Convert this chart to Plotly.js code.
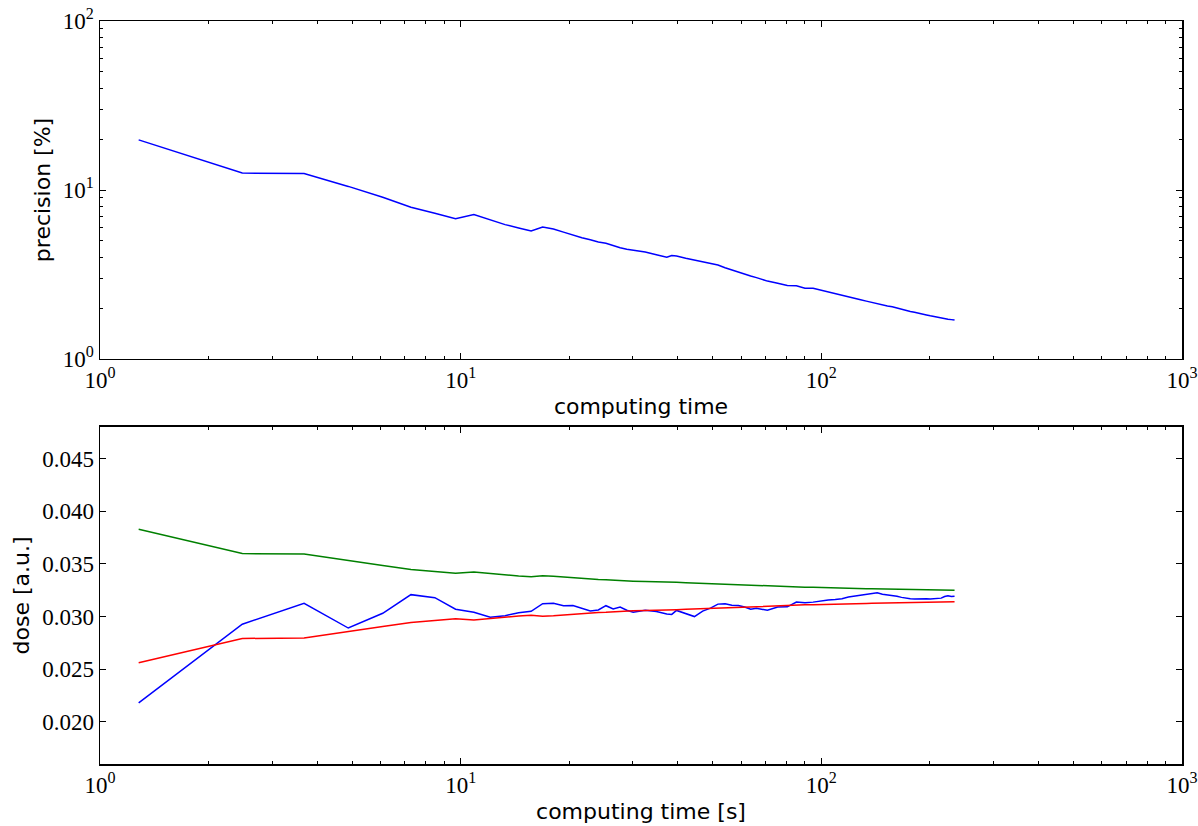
<!DOCTYPE html>
<html>
<head>
<meta charset="utf-8">
<script src="https://cdn.plot.ly/plotly-3.0.1.min.js"></script>
<style>html,body{margin:0;padding:0;background:#fff;}#chart{width:1198px;height:826px;}</style>
</head>
<body>
<div id="chart"></div>
<script>
// computing time [s]
const time = [1.28, 2.48, 3.68, 4.88, 6.08, 7.28, 8.48, 9.68, 10.88, 12.08, 13.28, 14.48, 15.68, 16.88, 18.08, 19.28, 20.48, 21.68, 22.88, 24.08, 25.28, 26.48, 27.68, 28.88, 30.08, 32.48, 34.88, 37.28, 38.48, 39.68, 42.08, 44.48, 46.88, 49.28, 51.68, 54.08, 56.48, 58.88, 61.28, 63.68, 66.08, 68.48, 70.88, 75.68, 80.48, 85.28, 90.08, 94.88, 99.68, 104.48, 109.28, 114.08, 118.88, 123.68, 128.48, 133.28, 138.08, 142.88, 147.68, 152.48, 157.28, 162.08, 166.88, 171.68, 176.48, 181.28, 186.08, 190.88, 195.68, 200.48, 205.28, 210.08, 214.88, 219.68, 224.48, 229.28, 234.08];

// precision [%]
const precision = [19.8, 12.6, 12.5, 10.5, 9.05, 7.9, 7.28, 6.77, 7.15, 6.64, 6.24, 5.96, 5.72, 6.04, 5.88, 5.63, 5.40, 5.22, 5.07, 4.92, 4.84, 4.68, 4.55, 4.46, 4.40, 4.30, 4.14, 4.00, 4.10, 4.07, 3.94, 3.85, 3.73, 3.69, 3.60, 3.47, 3.36, 3.26, 3.18, 3.10, 3.03, 2.96, 2.89, 2.81, 2.72, 2.71, 2.62, 2.62, 2.55, 2.49, 2.43, 2.37, 2.33, 2.28, 2.24, 2.20, 2.16, 2.12, 2.09, 2.06, 2.04, 2.00, 1.97, 1.94, 1.91, 1.89, 1.86, 1.84, 1.82, 1.80, 1.78, 1.77, 1.75, 1.74, 1.72, 1.71, 1.70];

// dose [a.u.]: running mean (blue), upper (green), lower (red)
const doseMean = [0.02180, 0.02927, 0.03126, 0.02891, 0.03031, 0.03208, 0.03179, 0.03070, 0.03040, 0.02993, 0.03008, 0.03037, 0.03050, 0.03122, 0.03127, 0.03102, 0.03105, 0.03079, 0.03053, 0.03062, 0.03103, 0.03072, 0.03091, 0.03060, 0.03040, 0.03060, 0.03048, 0.03025, 0.03020, 0.03058, 0.03025, 0.03000, 0.03052, 0.03080, 0.03118, 0.03122, 0.03108, 0.03104, 0.03090, 0.03070, 0.03078, 0.03070, 0.03060, 0.03090, 0.03092, 0.03138, 0.03130, 0.03137, 0.03150, 0.03157, 0.03162, 0.03170, 0.03185, 0.03193, 0.03200, 0.03208, 0.03216, 0.03226, 0.03212, 0.03206, 0.03202, 0.03192, 0.03182, 0.03174, 0.03168, 0.03167, 0.03169, 0.03170, 0.03168, 0.03166, 0.03168, 0.03171, 0.03175, 0.03190, 0.03198, 0.03190, 0.03193];

const doseUpper = [0.03828, 0.03598, 0.03594, 0.03530, 0.03484, 0.03447, 0.03428, 0.03411, 0.03423, 0.03407, 0.03394, 0.03385, 0.03378, 0.03388, 0.03383, 0.03375, 0.03368, 0.03362, 0.03357, 0.03352, 0.03350, 0.03345, 0.03340, 0.03338, 0.03336, 0.03332, 0.03327, 0.03323, 0.03326, 0.03325, 0.03321, 0.03318, 0.03314, 0.03313, 0.03310, 0.03306, 0.03302, 0.03299, 0.03297, 0.03294, 0.03292, 0.03290, 0.03287, 0.03285, 0.03282, 0.03282, 0.03279, 0.03279, 0.03276, 0.03275, 0.03273, 0.03271, 0.03269, 0.03268, 0.03267, 0.03265, 0.03264, 0.03263, 0.03262, 0.03261, 0.03260, 0.03259, 0.03258, 0.03257, 0.03256, 0.03255, 0.03254, 0.03254, 0.03253, 0.03253, 0.03252, 0.03252, 0.03251, 0.03251, 0.03250, 0.03250, 0.03249];

const doseLower = [0.02562, 0.02792, 0.02796, 0.02860, 0.02906, 0.02943, 0.02962, 0.02979, 0.02967, 0.02983, 0.02996, 0.03005, 0.03012, 0.03002, 0.03007, 0.03015, 0.03022, 0.03028, 0.03033, 0.03038, 0.03040, 0.03045, 0.03050, 0.03052, 0.03054, 0.03058, 0.03063, 0.03067, 0.03064, 0.03065, 0.03069, 0.03072, 0.03076, 0.03077, 0.03080, 0.03084, 0.03088, 0.03091, 0.03093, 0.03096, 0.03098, 0.03100, 0.03103, 0.03105, 0.03108, 0.03108, 0.03111, 0.03111, 0.03114, 0.03115, 0.03117, 0.03119, 0.03121, 0.03122, 0.03123, 0.03125, 0.03126, 0.03127, 0.03128, 0.03129, 0.03130, 0.03131, 0.03132, 0.03133, 0.03134, 0.03135, 0.03136, 0.03136, 0.03137, 0.03137, 0.03138, 0.03138, 0.03139, 0.03139, 0.03140, 0.03140, 0.03141];

// tick labels
const logTickVals = [1, 10, 100, 1000];
const logTickText = ['10<sup>0</sup>', '10<sup>1</sup>', '10<sup>2</sup>', '10<sup>3</sup>'];
const logMinorX = [2,3,4,5,6,7,8,9,20,30,40,50,60,70,80,90,200,300,400,500,600,700,800,900];
const logTickValsY = [1, 10, 100];
const logTickTextY = ['10<sup>0</sup>', '10<sup>1</sup>', '10<sup>2</sup>'];
const logMinorY = [2,3,4,5,6,7,8,9,20,30,40,50,60,70,80,90];

const tickFont = {family: 'Liberation Serif, DejaVu Serif, serif', size: 23, color: '#000'};
const titleFont = {family: 'DejaVu Sans, sans-serif', size: 22, color: '#000'};

const axisBase = {
  showline: true, linecolor: '#000', linewidth: 1.5, mirror: 'allticks',
  ticks: 'inside', ticklen: 6, tickwidth: 1, tickcolor: '#000',
  showgrid: false, zeroline: false, tickfont: tickFont
};

const traces = [
  {x: time, y: precision, xaxis: 'x2', yaxis: 'y2', type: 'scatter', mode: 'lines',
   line: {color: '#0000ff', width: 1.5}, name: 'precision'},
  {x: time, y: doseUpper, xaxis: 'x', yaxis: 'y', type: 'scatter', mode: 'lines',
   line: {color: '#008000', width: 1.5}, name: 'upper'},
  {x: time, y: doseMean, xaxis: 'x', yaxis: 'y', type: 'scatter', mode: 'lines',
   line: {color: '#0000ff', width: 1.5}, name: 'dose'},
  {x: time, y: doseLower, xaxis: 'x', yaxis: 'y', type: 'scatter', mode: 'lines',
   line: {color: '#ff0000', width: 1.5}, name: 'lower'}
];

const layout = {
  width: 1198, height: 826,
  margin: {l: 100, r: 16, t: 21, b: 62},
  paper_bgcolor: '#fff', plot_bgcolor: '#fff',
  showlegend: false,
  xaxis: Object.assign({}, axisBase, {
    type: 'log', range: [0, 3], anchor: 'y', domain: [0, 1],
    tickvals: logTickVals, ticktext: logTickText,
    minor: {ticks: 'inside', ticklen: 3, tickvals: logMinorX, tickcolor: '#000', showgrid: false},
    title: {text: 'computing time [s]', font: titleFont, standoff: 6}
  }),
  yaxis: Object.assign({}, axisBase, {
    range: [0.016, 0.048], anchor: 'x', domain: [0, 0.4536],
    tick0: 0.02, dtick: 0.005, tickformat: '.3f',
    title: {text: 'dose [a.u.]', font: titleFont, standoff: 6}
  }),
  xaxis2: Object.assign({}, axisBase, {
    type: 'log', range: [0, 3], anchor: 'y2', domain: [0, 1],
    tickvals: logTickVals, ticktext: logTickText,
    minor: {ticks: 'inside', ticklen: 3, tickvals: logMinorX, tickcolor: '#000', showgrid: false},
    title: {text: 'computing time', font: titleFont, standoff: 6}
  }),
  yaxis2: Object.assign({}, axisBase, {
    type: 'log', range: [0, 2], anchor: 'x2', domain: [0.5451, 1],
    tickvals: logTickValsY, ticktext: logTickTextY,
    minor: {ticks: 'inside', ticklen: 3, tickvals: logMinorY, tickcolor: '#000', showgrid: false},
    title: {text: 'precision [%]', font: titleFont, standoff: 6}
  })
};

Plotly.newPlot('chart', traces, layout, {displayModeBar: false, staticPlot: true});
</script>
</body>
</html>
